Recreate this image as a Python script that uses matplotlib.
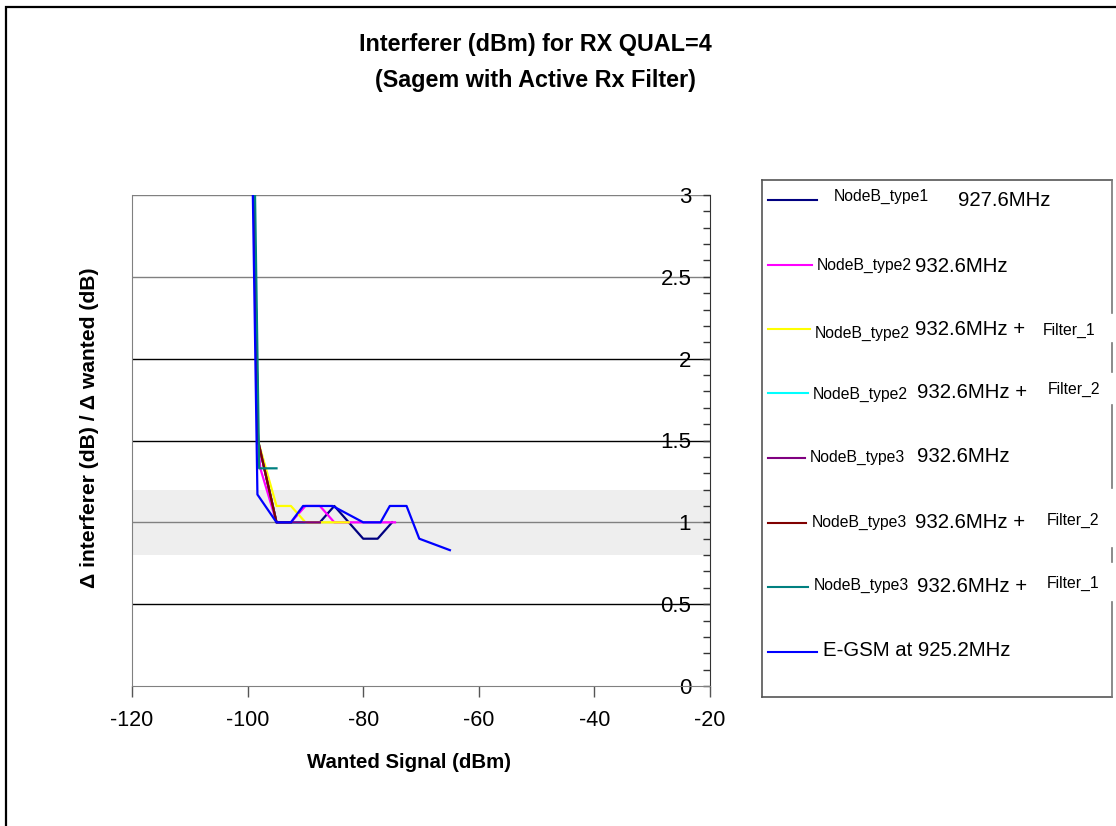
import matplotlib
matplotlib.use("Agg")
import matplotlib.pyplot as plt
from matplotlib.lines import Line2D
from matplotlib.patches import Rectangle

plt.rcParams["font.family"] = ["Liberation Sans", "DejaVu Sans"]
plt.rcParams["axes.unicode_minus"] = False

W, H = 1116, 826

# ---- data ----
names = ["NodeB_type1", "NodeB_type2", "NodeB_type2 + Filter_1", "NodeB_type2 + Filter_2",
         "NodeB_type3", "NodeB_type3 + Filter_2", "NodeB_type3 + Filter_1", "E-GSM at 925.2MHz"]
colors = ["#000080", "#FF00FF", "#FFFF00", "#00FFFF", "#800080", "#800000", "#008080", "#0000FF"]

x_type1 = [-100, -98.2, -95, -92.5, -90, -87.5, -85, -80, -77.5, -75]
y_type1 = [5.5, 1.5, 1.0, 1.0, 1.0, 1.0, 1.1, 0.9, 0.9, 1.0]
x_type2 = [-100, -98.2, -97.8, -95, -92.5, -90, -87.5, -85, -80, -77.5, -74.5]
y_type2 = [5.5, 1.5, 1.33, 1.0, 1.0, 1.1, 1.1, 1.0, 1.0, 1.0, 1.0]
x_type2_f1 = [-100, -98.2, -95, -92.5, -90, -87.5, -85, -82.5]
y_type2_f1 = [5.5, 1.5, 1.1, 1.1, 1.0, 1.0, 1.0, 1.0]
x_type2_f2 = [-100, -98.2, -95, -92.5, -90]
y_type2_f2 = [5.5, 1.5, 1.0, 1.0, 1.0]
x_type3 = [-100, -98.2, -95, -92.5, -90, -87.5]
y_type3 = [5.5, 1.5, 1.0, 1.0, 1.0, 1.0]
x_type3_f2 = [-100, -98.2, -95, -92.5]
y_type3_f2 = [5.5, 1.5, 1.0, 1.0]
x_type3_f1 = [-100, -98.0, -95]
y_type3_f1 = [6.0, 1.33, 1.33]
x_egsm = [-100, -98.3, -95, -92.5, -90.4, -85.3, -80, -77, -75.4, -72.5, -70.3, -65]
y_egsm = [5.1, 1.17, 1.0, 1.0, 1.1, 1.1, 1.0, 1.0, 1.1, 1.1, 0.9, 0.83]

xs = [x_type1, x_type2, x_type2_f1, x_type2_f2, x_type3, x_type3_f2, x_type3_f1, x_egsm]
ys = [y_type1, y_type2, y_type2_f1, y_type2_f2, y_type3, y_type3_f2, y_type3_f1, y_egsm]

xticks = [-120, -100, -80, -60, -40, -20]
yticks = [0, 0.5, 1, 1.5, 2, 2.5, 3]
band = (0.8, 1.2)


def fx(px):
    return px / W


def fy(py):
    return 1 - py / H


fig = plt.figure(figsize=(W / 100, H / 100), dpi=100)
fig.patch.set_facecolor("white")
ax = fig.add_axes([fx(132), fy(686), fx(710) - fx(132), fy(195) - fy(686)])

ax.axhspan(*band, color="#EEEEEE", zorder=0, lw=0)

for x, y, c in zip(xs, ys, colors):
    ax.plot(x, y, color=c, lw=1.6, zorder=3)

ax.set_xlim(-120, -20)
ax.set_ylim(0, 3)

# x axis
ax.set_xticks(xticks, labels=[str(v) for v in xticks])
ax.tick_params(axis="x", direction="out", length=8, width=1, color="#555555",
               labelsize=15.5, pad=9)

# y axis on the right, labels sitting inside the plot
ax.yaxis.tick_right()
ax.set_yticks(yticks, labels=[f"{v:g}" for v in yticks], ha="right")
ax.set_yticks([i / 10 for i in range(31)], minor=True)
ax.tick_params(axis="y", which="both", direction="in", length=5, width=1,
               color="#333333", labelsize=16, pad=-13.5)

grid_col = {0.5: "#000000", 1: "#808080", 1.5: "#000000", 2: "#000000",
            2.5: "#808080", 3: "#808080"}
for v, col in grid_col.items():
    ax.axhline(v, color=col, lw=1, zorder=1)

ax.spines["top"].set_visible(False)
ax.spines["left"].set_color("#808080")
ax.spines["bottom"].set_color("#808080")
ax.spines["right"].set_color("#333333")

# titles and axis labels
fig.text(fx(535), fy(45), "Interferer (dBm) for RX QUAL=4", ha="center", va="center",
         fontsize=16.8, fontweight="bold")
fig.text(fx(535), fy(80), "(Sagem with Active Rx Filter)", ha="center", va="center",
         fontsize=16.8, fontweight="bold")
fig.text(fx(409), fy(762), "Wanted Signal (dBm)", ha="center", va="center",
         fontsize=14.7, fontweight="bold")
fig.text(fx(90), fy(428), "\u0394 interferer (dB) / \u0394 wanted (dB)", ha="center",
         va="center", rotation=90, fontsize=15.2, fontweight="bold")

# hand-built legend box
L, R, T, B = 762, 1112, 180, 697
for (x0, y0), (x1, y1) in [((L, T), (R, T)), ((L, T), (L, B)), ((L, B), (R, B))]:
    fig.add_artist(Line2D([fx(x0), fx(x1)], [fy(y0), fy(y1)], color="#555555", lw=1.2))
for s0, s1 in [(180, 313), (343, 372), (405, 488), (548, 562), (602, 697)]:
    fig.add_artist(Line2D([fx(R), fx(R)], [fy(s0), fy(s1)], color="#777777", lw=1.2))

handle_ends = [817, 812, 810, 808, 805, 806, 808, 817]
handle_y = [200, 265, 329, 393, 458, 523, 587, 652]
for c, xe, hy in zip(colors, handle_ends, handle_y):
    fig.add_artist(Line2D([fx(768), fx(xe)], [fy(hy), fy(hy)], color=c, lw=1.5))

small = 11.3
big = 14.7
parts = [
    (834, 196, "NodeB_type1", small), (958, 200, "927.6MHz", big),
    (817, 265, "NodeB_type2", small), (915, 266, "932.6MHz", big),
    (815, 333, "NodeB_type2", small), (915, 330, "932.6MHz +", big), (1043, 330, "Filter_1", small),
    (813, 394, "NodeB_type2", small), (917, 393, "932.6MHz +", big), (1048, 389, "Filter_2", small),
    (810, 457, "NodeB_type3", small), (917, 457, "932.6MHz", big),
    (812, 522, "NodeB_type3", small), (915, 522, "932.6MHz +", big), (1047, 520, "Filter_2", small),
    (814, 585, "NodeB_type3", small), (917, 586, "932.6MHz +", big), (1047, 583, "Filter_1", small),
    (823, 651, "E-GSM at 925.2MHz", big),
]
for px, py, s, fs in parts:
    fig.text(fx(px), fy(py), s, ha="left", va="center", fontsize=fs)

# outer chart frame
fig.add_artist(Rectangle((fx(6), fy(840)), fx(1140) - fx(6), fy(7) - fy(840),
                         fill=False, edgecolor="black", lw=1.6, transform=fig.transFigure))

fig.savefig("out.png", dpi=100, facecolor="white")
